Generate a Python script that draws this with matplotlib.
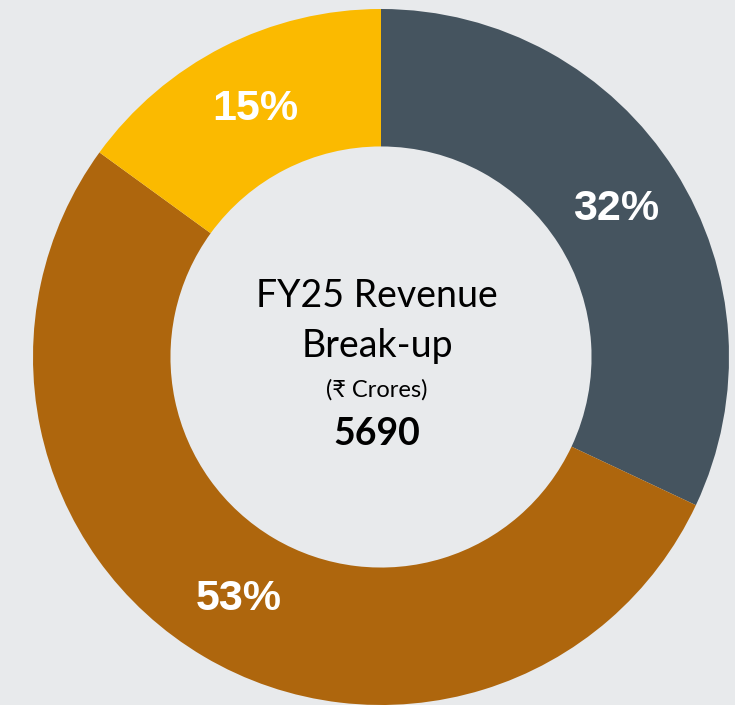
import matplotlib
matplotlib.use('Agg')
import matplotlib.pyplot as plt

# FY25 revenue split (share of 5690 crores)
segments = ['Segment A', 'Segment B', 'Segment C']
shares = [32, 53, 15]
colors = ['#45545F', '#AE660D', '#FBBA00']
total = 5690

W, H = 735, 705
fig = plt.figure(figsize=(W / 100, H / 100), dpi=100)
fig.patch.set_facecolor('#E8EAEC')
ax = fig.add_axes([0, 0, 1, 1])
ax.set_facecolor('#E8EAEC')

cx, cy, R = 381, H - 357, 348
wedges, _ = ax.pie(shares, colors=colors, startangle=90, counterclock=False,
                   radius=R, center=(cx, cy),
                   wedgeprops=dict(width=R * 0.395, linewidth=0))
ax.set_xlim(0, W)
ax.set_ylim(0, H)
ax.set_aspect('equal')
ax.axis('off')

# percentage labels
label_pos = [(616, 209), (239, 599), (255, 109)]
for (x, y), s in zip(label_pos, shares):
    ax.text(x, H - y, f'{s}%', ha='center', va='center', color='white',
            fontsize=31, fontweight='bold', family=['Liberation Sans', 'DejaVu Sans'])

fam = ['Lato', 'DejaVu Sans']
ax.text(377, H - 307, 'FY25 Revenue', ha='center', va='baseline', fontsize=27, family=fam)
ax.text(377, H - 357, 'Break-up', ha='center', va='baseline', fontsize=27, family=fam)
ax.text(377, H - 397, '(₹ Crores)', ha='center', va='baseline', fontsize=17, family=fam)
ax.text(377, H - 445, str(total), ha='center', va='baseline', fontsize=27,
        fontweight='bold', family=fam)

fig.savefig('out.png', dpi=100, facecolor=fig.get_facecolor())
